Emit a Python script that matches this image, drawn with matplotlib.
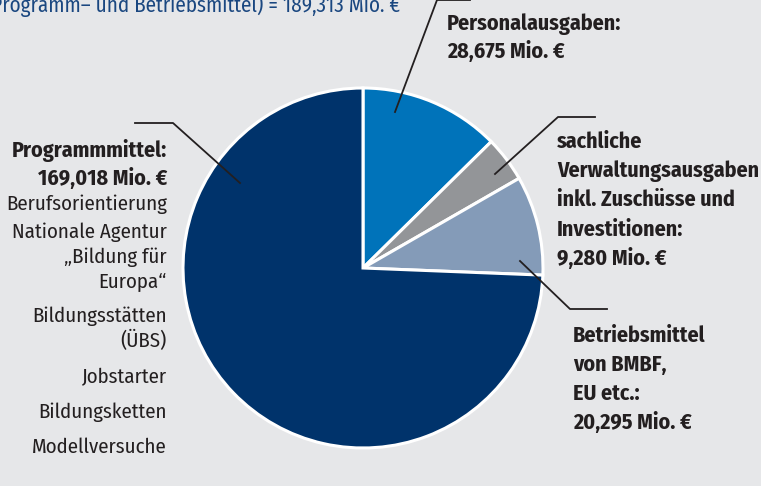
import matplotlib.pyplot as plt
from matplotlib import font_manager

# data
labels = ['Personalausgaben', 'sachliche Verwaltungsausgaben', 'Betriebsmittel', 'Programmmittel']
values = [28.675, 9.280, 20.295, 169.018]
colors = ['#0073ba', '#939598', '#849bb8', '#00336b']

title = '(Programm– und Betriebsmittel) = 189,313 Mio. €'
left_bold = ['Programmmittel:', '169,018 Mio. €']
left_items = ['Berufsorientierung', 'Nationale Agentur', '„Bildung für', 'Europa“',
              'Bildungsstätten', '(ÜBS)', 'Jobstarter', 'Bildungsketten', 'Modellversuche']
pers_text = ['Personalausgaben:', '28,675 Mio. €']
sach_text = ['sachliche', 'Verwaltungsausgaben', 'inkl. Zuschüsse und', 'Investitionen:', '9,280 Mio. €']
betr_text = ['Betriebsmittel', 'von BMBF,', 'EU etc.:', '20,295 Mio. €']

names = set(f.name for f in font_manager.fontManager.ttflist)
fam = 'DejaVu Sans'
for cand in ['Fira Sans Condensed', 'Roboto Condensed', 'Open Sans Condensed',
             'Liberation Sans Narrow', 'PT Sans Narrow']:
    if cand in names:
        fam = cand
        break
plt.rcParams['font.family'] = [fam, 'DejaVu Sans']

W, H = 761, 486
bg = '#e6e7e9'
txt = '#231f20'

fig = plt.figure(figsize=(W / 100, H / 100), dpi=100, facecolor=bg)
ax = fig.add_axes([0, 0, 1, 1])
ax.set_facecolor(bg)

def Y(y):
    return H - y

ax.pie(values, colors=colors, startangle=90, counterclock=False,
       center=(363, Y(268)), radius=180,
       wedgeprops=dict(edgecolor='white', linewidth=2.2))
ax.set_xlim(0, W)
ax.set_ylim(0, H)
ax.set_aspect('auto')
ax.axis('off')

# leader lines
lw = 1.3
ax.plot([395, 437, 470], [Y(112), Y(0), Y(0)], color=txt, lw=lw)
ax.plot([240, 173, 135], [Y(183), Y(123), Y(123)], color=txt, lw=lw)
ax.plot([495, 558, 595], [Y(174), Y(117), Y(117)], color=txt, lw=lw)
ax.plot([520, 570, 607], [Y(261), Y(309), Y(309)], color=txt, lw=lw)

fb = 15.8   # bold labels
fr = 15.0   # regular labels
ax.text(400, Y(12), title, color='#1a4780', fontsize=15.2, ha='right', va='baseline')

for i, s in enumerate(pers_text):
    ax.text(447, Y(30 + 28.5 * i), s, fontsize=fb, fontweight='bold', color=txt, va='baseline')
for i, s in enumerate(sach_text):
    ax.text(557, Y(148 + 29.2 * i), s, fontsize=fb, fontweight='bold', color=txt, va='baseline')
for i, s in enumerate(betr_text):
    ax.text(573, Y(342 + 29 * i), s, fontsize=fb, fontweight='bold', color=txt, va='baseline')

for i, s in enumerate(left_bold):
    ax.text(167, Y(157 + 28 * i), s, fontsize=fb, fontweight='bold', color=txt, va='baseline', ha='right')
left_y = [210, 238, 263, 288, 322, 347, 383, 418, 453]
for s, yy in zip(left_items, left_y):
    ax.text(167, Y(yy), s, fontsize=fr, color=txt, va='baseline', ha='right')

plt.savefig('out.png', dpi=100, facecolor=bg)
